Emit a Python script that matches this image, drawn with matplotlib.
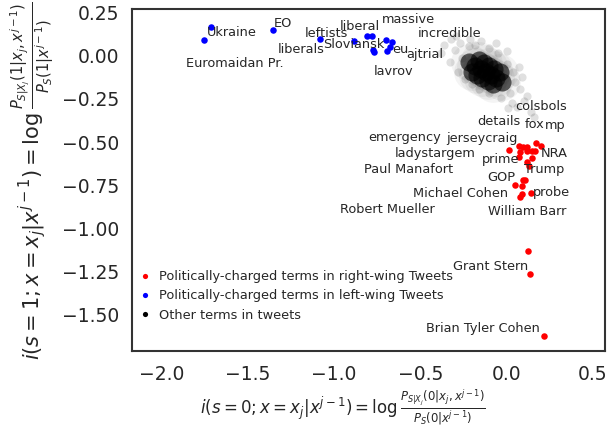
import matplotlib
matplotlib.use("Agg")
import matplotlib.pyplot as plt
import seaborn as sns

sns.set_style("white")
plt.rcParams['font.family'] = ['DejaVu Sans']

# politically-charged terms, right-wing tweets
right_x = [0.013, 0.072, 0.081, 0.097, 0.116, 0.120, 0.149, 0.163, 0.173, 0.198,
           0.072, 0.145, 0.120, 0.130, 0.095, 0.106, 0.052, 0.091, 0.091, 0.081,
           0.140, 0.124, 0.135, 0.215]
right_y = [-0.551, -0.530, -0.561, -0.536, -0.532, -0.556, -0.556, -0.556, -0.509, -0.530,
           -0.595, -0.598, -0.622, -0.643, -0.725, -0.727, -0.754, -0.762, -0.805, -0.825,
           -0.803, -1.140, -1.273, -1.633]

# politically-charged terms, left-wing tweets
left_x = [-1.711, -1.750, -1.353, -1.081, -0.882, -0.806, -0.781, -0.775, -0.766,
          -0.699, -0.665, -0.674, -0.690]
left_y = [0.160, 0.088, 0.142, 0.092, 0.082, 0.107, 0.107, 0.029, 0.019,
          0.089, 0.076, 0.045, 0.023]

# other terms: dense core of the cloud (hand-read)
core_x = [-0.215, -0.180, -0.150, -0.120, -0.090, -0.060, -0.025,
          -0.160, -0.130, -0.100, -0.070, -0.040,
          -0.200, -0.170, -0.140, -0.110, -0.080]
core_y = [-0.044, -0.064, -0.082, -0.100, -0.118, -0.136, -0.156,
          -0.030, -0.048, -0.066, -0.084, -0.102,
          -0.098, -0.116, -0.134, -0.152, -0.170]

# other terms: sparse points around the core
halo_x = [-0.36, -0.30, -0.32, -0.27, -0.26, -0.28, -0.22, -0.18, -0.10, -0.05,
          0.00, 0.04, 0.05, 0.02, -0.03, -0.10, -0.20, 0.08, 0.10, 0.06,
          0.14, 0.03, -0.38, -0.33, -0.15, 0.07, -0.24, -0.16, 0.12, 0.00,
          -0.29, -0.06, 0.01, -0.21, 0.16, 0.09]
halo_y = [0.06, 0.03, 0.09, 0.07, -0.02, -0.10, 0.05, 0.06, 0.04, 0.01,
          -0.05, -0.10, -0.16, -0.22, -0.25, -0.22, -0.17, -0.20, -0.27, -0.30,
          -0.33, -0.28, 0.01, -0.04, 0.08, -0.07, -0.14, -0.20, -0.24, 0.02,
          0.11, 0.07, -0.31, 0.09, -0.36, -0.13]

# term labels and where they sit
terms = ["Ukraine", "EO", "leftists", "liberal", "massive", "liberals", "Sloviansk",
         "eu", "ajtrial", "incredible", "Euromaidan Pr.", "lavrov", "colsbols",
         "details", "fox", "mp", "emergency", "jerseycraig", "ladystargem", "NRA",
         "prime", "Trump", "Paul Manafort", "GOP", "Michael Cohen", "probe",
         "Robert Mueller", "William Barr", "Grant Stern", "Brian Tyler Cohen"]
term_pos = [(-1.738, 0.135), (-1.349, 0.187), (-1.169, 0.129), (-0.965, 0.170),
            (-0.721, 0.211), (-1.326, 0.035), (-1.064, 0.064), (-0.663, 0.035),
            (-0.581, 0.006), (-0.512, 0.129), (-1.855, -0.047), (-0.767, -0.088),
            (0.052, -0.292), (-0.169, -0.380), (0.105, -0.398), (0.222, -0.404),
            (-0.802, -0.474), (-0.349, -0.480), (-0.645, -0.567), (0.198, -0.567),
            (-0.145, -0.602), (0.099, -0.661), (-0.826, -0.661), (-0.110, -0.708),
            (-0.541, -0.801), (0.151, -0.795), (-0.965, -0.889), (-0.105, -0.901),
            (-0.308, -1.222), (-0.465, -1.585)]

fig = plt.figure(figsize=(6.11, 4.31), dpi=100)
ax = fig.add_axes([0.216, 0.183, 0.774, 0.794])

# soft glow, then stray points, then the dark core
ax.scatter(core_x, core_y, s=700, color="black", alpha=0.045, linewidths=0, zorder=1)
ax.scatter(halo_x, halo_y, s=35, color="black", alpha=0.12, linewidths=0, zorder=1)
ax.scatter(core_x, core_y, s=170, color="black", alpha=0.6, linewidths=0,
           label="Other terms in tweets", zorder=1)
ax.scatter(right_x, right_y, s=22, color="red", linewidths=0,
           label="Politically-charged terms in right-wing Tweets", zorder=3)
ax.scatter(left_x, left_y, s=22, color="blue", linewidths=0,
           label="Politically-charged terms in left-wing Tweets", zorder=3)

for t, (tx, ty) in zip(terms, term_pos):
    ax.text(tx, ty, t, fontsize=9.3, color=".15", ha="left", va="center", zorder=4)

ax.set_xlim(-2.17, 0.57)
ax.set_ylim(-1.72, 0.267)
ax.set_xticks([-2.0, -1.5, -1.0, -0.5, 0.0, 0.5])
ax.set_yticks([0.25, 0.0, -0.25, -0.5, -0.75, -1.0, -1.25, -1.5])
ax.tick_params(labelsize=13.5, colors=".15", pad=6)

for sp in ax.spines.values():
    sp.set_color(".2")
    sp.set_linewidth(1.5)

ax.set_xlabel(r"$i(s=0;x=x_j|x^{j-1}) = \log\frac{P_{S|X_j}(0|x_j,x^{j-1})}{P_S(0|x^{j-1})}$",
              fontsize=12, color=".15")
ax.xaxis.set_label_coords(0.447, -0.105)
ax.set_ylabel(r"$i(s=1;x=x_j|x^{j-1}) = \log\frac{P_{S|X_j}(1|x_j,x^{j-1})}{P_S(1|x^{j-1})}$",
              fontsize=15, color=".15")

h, l = ax.get_legend_handles_labels()
leg = ax.legend([h[1], h[2], h[0]], [l[1], l[2], l[0]], loc="lower left",
                bbox_to_anchor=(-0.025, 0.055), frameon=False, fontsize=9.25,
                handletextpad=0.1, labelspacing=0.5)
for hd in leg.legend_handles:
    hd.set_sizes([14])
    hd.set_alpha(1)

fig.savefig("out.png", dpi=100)
